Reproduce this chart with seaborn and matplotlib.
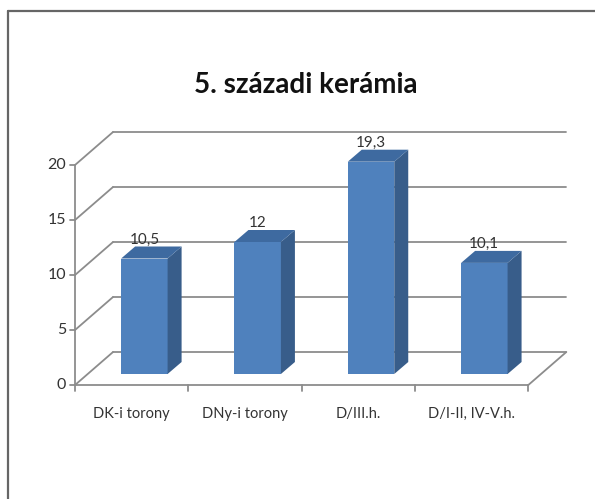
import numpy as np
import matplotlib.pyplot as plt
import seaborn as sns
import pandas as pd
from matplotlib.lines import Line2D
from matplotlib.patches import Polygon
from matplotlib.transforms import IdentityTransform

# data
categories = ["DK-i torony", "DNy-i torony", "D/III.h.", "D/I-II, IV-V.h."]
values = [10.5, 12, 19.3, 10.1]
value_labels = ["10,5", "12", "19,3", "10,1"]
y_ticks = [0, 5, 10, 15, 20]
title = "5. századi kerámia"

sns.set_style("white")
plt.rcParams['font.family'] = ['Lato', 'DejaVu Sans']

W, H = 595, 499
fig = plt.figure(figsize=(W / 100, H / 100), dpi=100)
# axes = the plane of the bar fronts (a third of the way into the box)
ax = fig.add_axes([87.7 / W, 1 - 374 / H, 453.3 / W, 220 / H])

df = pd.DataFrame({"cat": categories, "val": values})
sns.barplot(data=df, x="cat", y="val", color="#4F81BD", saturation=1,
            width=0.41, linewidth=0, ax=ax, zorder=2)
ax.set_xlim(-0.5, 3.5)
ax.set_ylim(0, 20)
ax.axis("off")

depth = np.array([38.0, 33.0])      # full box depth in pixels
front = -depth / 3                  # floor / axis plane
back = depth * 2 / 3                # back wall
bar_d = np.array([14.0, 12.0])      # depth of a bar

grid_c = "#8c8c8c"
txt_c = "#333333"
idt = IdentityTransform()


def px(x, y, off=(0, 0)):
    return ax.transData.transform((x, y)) + np.asarray(off)


def seg(p, q, **kw):
    ax.add_line(Line2D([p[0], q[0]], [p[1], q[1]], transform=idt,
                       clip_on=False, color=grid_c, lw=1.3, **kw))


x0, x1 = ax.get_xlim()
for t in y_ticks:
    # back wall gridline + left wall diagonal
    seg(px(x0, t, back), px(x1, t, back), zorder=0.5)
    seg(px(x0, t, front), px(x0, t, back), zorder=0.5)
    # tick + label on front axis
    p = px(x0, t, front)
    seg(p, p + (-5, 0), zorder=0.5)
    ax.text(p[0] - 9, p[1], str(t), transform=idt, ha="right", va="center",
            fontsize=11.5, color=txt_c)

# front vertical axis, floor front edge and right floor edge
seg(px(x0, 0, front), px(x0, 20, front), zorder=0.5)
seg(px(x0, 0, front), px(x1, 0, front), zorder=0.5)
seg(px(x1, 0, front), px(x1, 0, back), zorder=0.5)
for b in np.arange(x0, x1 + 0.01, 1.0):
    p = px(b, 0, front)
    seg(p, p + (0, -6), zorder=0.5)

for i, c in enumerate(categories):
    p = px(i, 0, front)
    ax.text(p[0], p[1] - 29, c, transform=idt, ha="center", va="center",
            fontsize=10.5, color=txt_c)

# 3D sides and tops of the bars
for patch, lab in zip(ax.patches, value_labels):
    bx, bw, bh = patch.get_x(), patch.get_width(), patch.get_height()
    a, b = px(bx + bw, 0), px(bx + bw, bh)
    ax.add_patch(Polygon([a, b, b + bar_d, a + bar_d], closed=True,
                         transform=idt, facecolor="#385D8A", lw=0,
                         clip_on=False, zorder=2))
    c, d = px(bx, bh), px(bx + bw, bh)
    ax.add_patch(Polygon([c, d, d + bar_d, c + bar_d], closed=True,
                         transform=idt, facecolor="#3E6AA0", lw=0,
                         clip_on=False, zorder=2))
    m = px(bx + bw / 2, bh)
    ax.text(m[0], m[1] + 19, lab, transform=idt, ha="center", va="center",
            fontsize=11, color=txt_c, zorder=3)

fig.text(306 / W, 1 - 93 / H, title, ha="center", va="baseline",
         fontsize=20, fontweight="bold", color="#111111")

# partial frame (top and left edge only)
fig.add_artist(Line2D([7.5 / W, 1], [1 - 11 / H, 1 - 11 / H],
                      transform=fig.transFigure, color="#666666", lw=1.6))
fig.add_artist(Line2D([7.5 / W, 7.5 / W], [0, 1 - 11 / H],
                      transform=fig.transFigure, color="#666666", lw=1.6))

fig.savefig("out.png", dpi=100)
